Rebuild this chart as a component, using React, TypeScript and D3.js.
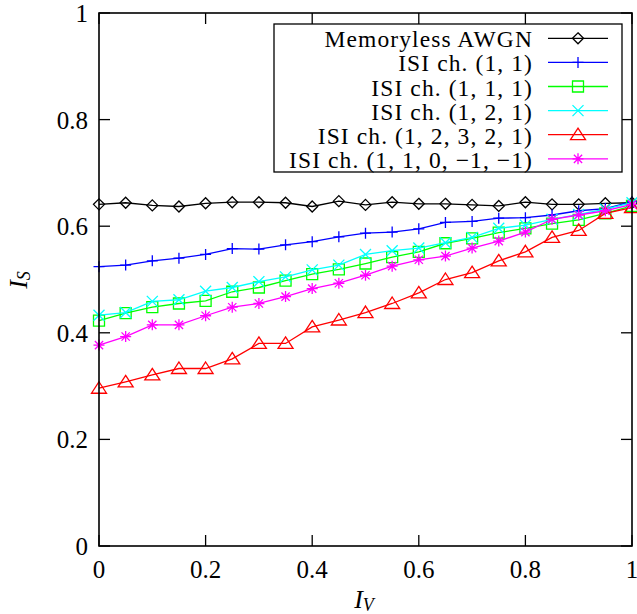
import React from "react";
import * as d3 from "d3";

const iv = [0, 0.05, 0.1, 0.15, 0.2, 0.25, 0.3, 0.35, 0.4, 0.45, 0.5, 0.55, 0.6, 0.65, 0.7, 0.75, 0.8, 0.85, 0.9, 0.95, 1];

const awgn = [0.641, 0.644, 0.639, 0.637, 0.643, 0.645, 0.645, 0.644, 0.637, 0.647, 0.64, 0.645, 0.642, 0.642, 0.64, 0.638, 0.645, 0.641, 0.641, 0.643, 0.644];
const isi11 = [0.524, 0.527, 0.535, 0.54, 0.547, 0.558, 0.557, 0.565, 0.571, 0.58, 0.587, 0.589, 0.595, 0.607, 0.609, 0.615, 0.616, 0.621, 0.629, 0.633, 0.646];
const isi111 = [0.423, 0.437, 0.448, 0.455, 0.46, 0.477, 0.485, 0.498, 0.51, 0.519, 0.53, 0.542, 0.552, 0.568, 0.577, 0.588, 0.596, 0.605, 0.612, 0.624, 0.638];
const isi121 = [0.433, 0.438, 0.459, 0.462, 0.478, 0.485, 0.496, 0.505, 0.518, 0.527, 0.547, 0.554, 0.559, 0.569, 0.579, 0.596, 0.602, 0.613, 0.622, 0.632, 0.644];
const isi12321 = [0.296, 0.308, 0.321, 0.333, 0.333, 0.351, 0.38, 0.38, 0.411, 0.424, 0.438, 0.455, 0.475, 0.5, 0.513, 0.535, 0.552, 0.579, 0.592, 0.624, 0.635];
const isi110 = [0.377, 0.393, 0.415, 0.415, 0.432, 0.448, 0.455, 0.468, 0.483, 0.493, 0.508, 0.525, 0.537, 0.544, 0.559, 0.572, 0.589, 0.613, 0.621, 0.629, 0.641];

const seriesNames = [
  "Memoryless AWGN",
  "ISI ch. (1, 1)",
  "ISI ch. (1, 1, 1)",
  "ISI ch. (1, 2, 1)",
  "ISI ch. (1, 2, 3, 2, 1)",
  "ISI ch. (1, 1, 0, \u22121, \u22121)",
];
const seriesValues = [awgn, isi11, isi111, isi121, isi12321, isi110];
const seriesColors = ["#000000", "#0000ff", "#00ff00", "#00ffff", "#ff0000", "#ff00ff"];
const seriesMarkers = ["diamond", "plus", "square", "cross", "triangle", "star"];

const xTicks = [0, 0.2, 0.4, 0.6, 0.8, 1];
const yTicks = [0, 0.2, 0.4, 0.6, 0.8, 1];

const W = 637;
const H = 614;
const left = 99;
const right = 632;
const top = 13;
const bottom = 546;
const font = "Liberation Serif, DejaVu Serif, serif";

function markerPath(kind: string, cx: number, cy: number) {
  const s = 5.5;
  switch (kind) {
    case "diamond":
      return `M${cx},${cy - s}L${cx + s},${cy}L${cx},${cy + s}L${cx - s},${cy}Z`;
    case "plus":
      return `M${cx - s},${cy}H${cx + s}M${cx},${cy - s}V${cy + s}`;
    case "square":
      return `M${cx - s},${cy - s}H${cx + s}V${cy + s}H${cx - s}Z`;
    case "cross":
      return `M${cx - s},${cy - s}L${cx + s},${cy + s}M${cx - s},${cy + s}L${cx + s},${cy - s}`;
    case "triangle":
      return `M${cx},${cy - 6.5}L${cx + 7.5},${cy + 5}L${cx - 7.5},${cy + 5}Z`;
    default:
      return (
        `M${cx - s},${cy}H${cx + s}M${cx},${cy - s}V${cy + s}` +
        `M${cx - s * 0.75},${cy - s * 0.75}L${cx + s * 0.75},${cy + s * 0.75}` +
        `M${cx - s * 0.75},${cy + s * 0.75}L${cx + s * 0.75},${cy - s * 0.75}`
      );
  }
}

export default function App() {
  const x = d3.scaleLinear().domain([0, 1]).range([left, right]);
  const y = d3.scaleLinear().domain([0, 1]).range([bottom, top]);
  const fmt = d3.format("~g");
  const line = d3
    .line<number>()
    .x((_, i) => x(iv[i]))
    .y((d) => y(d));

  const legX = 274;
  const legW = 348;
  const legTop = 24;
  const rowH = 24.1;
  const row0 = 38.3;

  return (
    <svg
      width={W}
      height={H}
      style={{ position: "absolute", left: 0, top: 0, background: "#fff", fontFamily: font }}
    >
      {/* ticks, mirrored on all sides */}
      <g stroke="#000" strokeWidth={1.3}>
        {xTicks.map((t) => (
          <g key={"xt" + t}>
            <line x1={x(t)} x2={x(t)} y1={bottom} y2={bottom - 11} />
            <line x1={x(t)} x2={x(t)} y1={top} y2={top + 11} />
          </g>
        ))}
        {yTicks.map((t) => (
          <g key={"yt" + t}>
            <line x1={left} x2={left + 11} y1={y(t)} y2={y(t)} />
            <line x1={right} x2={right - 11} y1={y(t)} y2={y(t)} />
          </g>
        ))}
      </g>

      {/* series */}
      {seriesValues.map((vals, si) => (
        <g key={"s" + si} stroke={seriesColors[si]} fill="none" strokeWidth={1.3}>
          <path d={line(vals) || ""} />
          {vals.map((v, i) => (
            <path key={i} d={markerPath(seriesMarkers[si], x(iv[i]), y(v))} />
          ))}
        </g>
      ))}

      {/* frame */}
      <rect x={left} y={top} width={right - left} height={bottom - top} fill="none" stroke="#000" strokeWidth={1.6} />

      {/* tick labels */}
      <g fontSize={25} fill="#000">
        {xTicks.map((t) => (
          <text key={"xl" + t} x={x(t)} y={578} textAnchor="middle">
            {fmt(t)}
          </text>
        ))}
        {yTicks.map((t) => (
          <text key={"yl" + t} x={88} y={y(t) + 9} textAnchor="end">
            {fmt(t)}
          </text>
        ))}
      </g>

      {/* axis labels */}
      <text x={364} y={608} fontSize={26} textAnchor="middle">
        <tspan fontStyle="italic">I</tspan>
        <tspan fontSize={18} fontStyle="italic" dy={3}>V</tspan>
      </text>
      <text transform="translate(27,280) rotate(-90)" fontSize={26} textAnchor="middle">
        <tspan fontStyle="italic">I</tspan>
        <tspan fontSize={18} fontStyle="italic" dy={3}>S</tspan>
      </text>

      {/* legend */}
      <rect x={legX} y={legTop} width={legW} height={148} fill="#fff" stroke="#000" strokeWidth={1.3} />
      {seriesNames.map((name, si) => {
        const cy = row0 + si * rowH;
        return (
          <g key={"lg" + si}>
            <text x={533} y={cy + 9} fontSize={23.5} letterSpacing={1.1} textAnchor="end">
              {name}
            </text>
            <g stroke={seriesColors[si]} fill="none" strokeWidth={1.3}>
              <line x1={548} x2={608} y1={cy} y2={cy} />
              <path d={markerPath(seriesMarkers[si], 578, cy)} />
            </g>
          </g>
        );
      })}
    </svg>
  );
}
